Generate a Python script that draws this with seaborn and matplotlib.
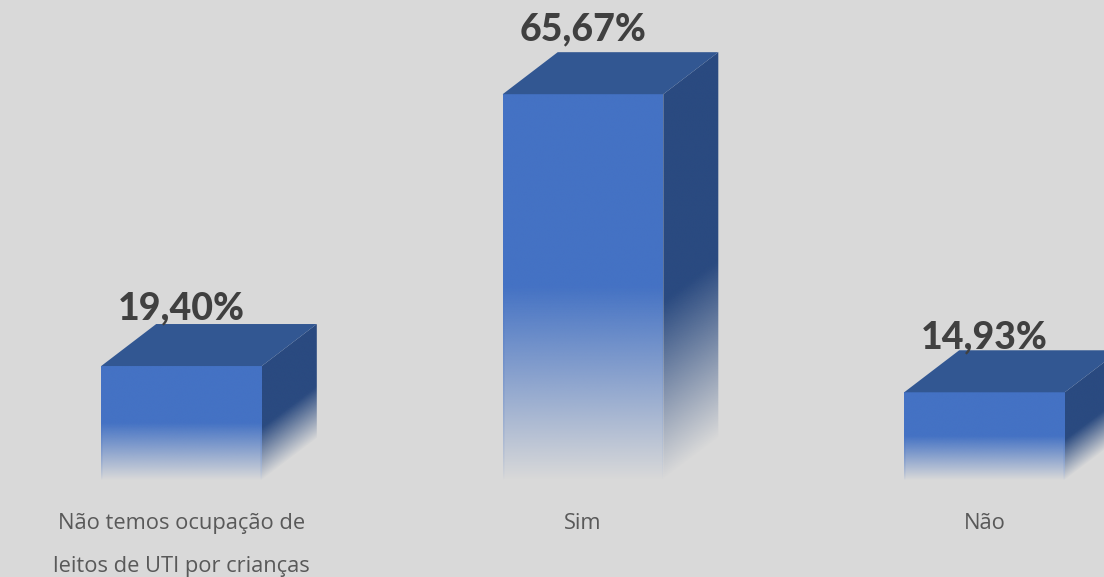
"""3D-looking bar chart: pediatric ICU bed occupancy survey answers."""
import matplotlib
matplotlib.use("Agg")
import matplotlib.pyplot as plt
import numpy as np
import pandas as pd
import seaborn as sns
from matplotlib.colors import to_rgb
from matplotlib.patches import Polygon

categories = ["Não temos ocupação de\nleitos de UTI por crianças", "Sim", "Não"]
values = [19.40, 65.67, 14.93]
value_labels = ["19,40%", "65,67%", "14,93%"]

OUTPUT_PATH = "out.png"
BG = "#D9D9D9"
FRONT = "#4472C4"
SIDE = "#2A4A80"
TOP = "#325792"
FADE_FRONT = 0.50
FADE_SIDE = 0.46
DEPTH_X = 0.137
DEPTH_Y = 7.15
LABEL_PADS = [3.5, 8.3, 1.5]
BASE_PX = 480

sns.set_theme(style="white")
plt.rcParams["font.family"] = ["Open Sans", "DejaVu Sans"]


def fade_image(ax, pts, color, base_y, height, fade, slope=0.0, x0=0.0, edge=0.0):
    # alpha runs from 0 on the lower edge to 1 at the fade stop
    pts = np.array(pts)
    xs = np.linspace(pts[:, 0].min(), pts[:, 0].max(), 300)
    ys = np.linspace(pts[:, 1].max(), pts[:, 1].min(), 600)
    xx, yy = np.meshgrid(xs, ys)
    frac = (yy - base_y - slope * (xx - x0)) / height
    alpha = np.clip(frac / fade, 0, 1)
    if edge:
        # the faded part keeps a slightly stronger rim on both sides
        rim = (xx < xs[0] + edge) | (xx > xs[-1] - edge)
        alpha[rim] = alpha[rim] ** 0.75
    img = np.zeros(xx.shape + (4,))
    img[..., :3] = to_rgb(color)
    img[..., 3] = alpha
    im = ax.imshow(
        img,
        extent=(xs[0], xs[-1], ys[-1], ys[0]),
        aspect="auto",
        interpolation="bilinear",
        zorder=3,
    )
    im.set_clip_path(Polygon(pts, transform=ax.transData))


def build():
    df = pd.DataFrame({"categoria": categories, "valor": values})
    fig = plt.figure(figsize=(11.04, 5.77), dpi=100, facecolor=BG)
    ax = fig.add_axes([0, 1 - BASE_PX / 577, 1, BASE_PX / 577], facecolor=BG)
    sns.barplot(data=df, x="categoria", y="valor", color=FRONT, saturation=1,
                width=0.4, ax=ax)

    xlim = (-181.5 / 401.5, (1104 - 181.5) / 401.5)
    ylim = (0, BASE_PX / 5.875)

    for bar, label, pad in zip(ax.patches, value_labels, LABEL_PADS):
        x, w, h = bar.get_x(), bar.get_width(), bar.get_height()
        bar.set_visible(False)
        fade_image(ax, [(x, 0), (x + w, 0), (x + w, h), (x, h)], FRONT, 0, h, FADE_FRONT,
                   edge=0.003)
        fade_image(
            ax,
            [(x + w, 0), (x + w + DEPTH_X, DEPTH_Y), (x + w + DEPTH_X, h + DEPTH_Y), (x + w, h)],
            SIDE, 0, h, FADE_SIDE, slope=DEPTH_Y / DEPTH_X, x0=x + w,
        )
        ax.add_patch(Polygon(
            [(x, h), (x + w, h), (x + w + DEPTH_X, h + DEPTH_Y), (x + DEPTH_X, h + DEPTH_Y)],
            facecolor=TOP, edgecolor="none", zorder=3,
        ))
        ax.annotate(label, (x + w / 2, h + DEPTH_Y), xytext=(0, pad),
                    textcoords="offset points", ha="center", va="baseline",
                    fontsize=27, fontweight="black", family=["Lato", "DejaVu Sans"],
                    color="#404040", zorder=4)

    ax.set_xlim(xlim)
    ax.set_ylim(ylim)
    ax.set_xlabel("")
    ax.set_ylabel("")
    ax.set_yticks([])
    ax.tick_params(axis="x", length=0, pad=23.5, labelsize=15.75, labelcolor="#595959")
    for t in ax.get_xticklabels():
        t.set_linespacing(2.4)
    sns.despine(ax=ax, left=True, bottom=True, top=True, right=True)

    fig.savefig(OUTPUT_PATH, dpi=100, facecolor=BG)
    plt.close(fig)


if __name__ == "__main__":
    build()
